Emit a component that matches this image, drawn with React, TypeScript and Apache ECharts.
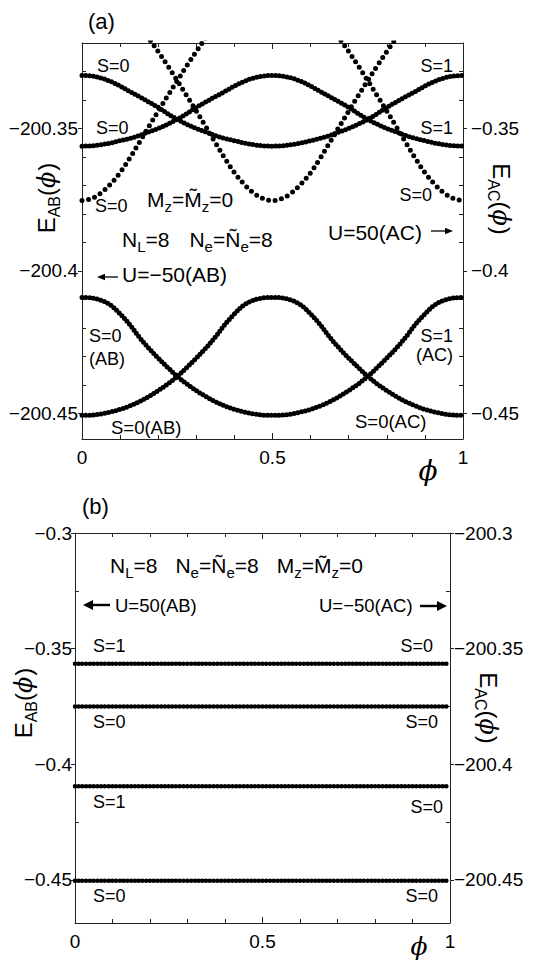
import React, { useEffect, useRef } from 'react';
import * as echarts from 'echarts';

const SANS = '"Liberation Sans", Arial, Helvetica, sans-serif';
const SERIF = '"DejaVu Serif", "Liberation Serif", serif';

// ---------- panel (a) data ----------
const PHI_FULL = [0, 0.025, 0.05, 0.075, 0.1, 0.125, 0.15, 0.175, 0.2, 0.225, 0.25, 0.275, 0.3, 0.325, 0.35, 0.375, 0.4, 0.425, 0.45, 0.475, 0.5, 0.525, 0.55, 0.575, 0.6, 0.625, 0.65, 0.675, 0.7, 0.725, 0.75, 0.775, 0.8, 0.825, 0.85, 0.875, 0.9, 0.925, 0.95, 0.975, 1];
const E_TOP_A = [-200.3314, -200.3316, -200.3323, -200.3335, -200.3351, -200.337, -200.3388, -200.3407, -200.3426, -200.3448, -200.3468, -200.3485, -200.35, -200.3512, -200.3525, -200.3535, -200.3543, -200.3551, -200.3557, -200.3561, -200.3562, -200.3561, -200.3557, -200.3551, -200.3543, -200.3535, -200.3525, -200.3512, -200.35, -200.3485, -200.3468, -200.3448, -200.3426, -200.3407, -200.3388, -200.337, -200.3351, -200.3335, -200.3323, -200.3316, -200.3314];
const E_TOP_B = [-200.3562, -200.3561, -200.3557, -200.3551, -200.3543, -200.3535, -200.3525, -200.3512, -200.35, -200.3485, -200.3468, -200.3448, -200.3426, -200.3407, -200.3388, -200.337, -200.3351, -200.3335, -200.3323, -200.3316, -200.3314, -200.3316, -200.3323, -200.3335, -200.3351, -200.337, -200.3388, -200.3407, -200.3426, -200.3448, -200.3468, -200.3485, -200.35, -200.3512, -200.3525, -200.3535, -200.3543, -200.3551, -200.3557, -200.3561, -200.3562];
const E_LOW_G = [-200.4093, -200.4095, -200.4103, -200.412, -200.4151, -200.4188, -200.4232, -200.4271, -200.4306, -200.4339, -200.437, -200.4397, -200.442, -200.4441, -200.4459, -200.4474, -200.4486, -200.4495, -200.4502, -200.4506, -200.4507, -200.4506, -200.4502, -200.4495, -200.4486, -200.4474, -200.4459, -200.4441, -200.442, -200.4397, -200.437, -200.4339, -200.4306, -200.4271, -200.4232, -200.4188, -200.4151, -200.412, -200.4103, -200.4095, -200.4093];
const E_LOW_F = [-200.4507, -200.4506, -200.4502, -200.4495, -200.4486, -200.4474, -200.4459, -200.4441, -200.442, -200.4397, -200.437, -200.4339, -200.4306, -200.4271, -200.4232, -200.4188, -200.4151, -200.412, -200.4103, -200.4095, -200.4093, -200.4095, -200.4103, -200.412, -200.4151, -200.4188, -200.4232, -200.4271, -200.4306, -200.4339, -200.437, -200.4397, -200.442, -200.4441, -200.4459, -200.4474, -200.4486, -200.4495, -200.4502, -200.4506, -200.4507];

const PHI_C = [0, 0.025, 0.05, 0.075, 0.1, 0.125, 0.15, 0.175, 0.2, 0.225, 0.25, 0.275, 0.3, 0.325, 0.35];
const E_STEEP_C = [-200.3753, -200.3746, -200.3726, -200.3695, -200.3655, -200.3605, -200.355, -200.3494, -200.3439, -200.3385, -200.3332, -200.328, -200.323, -200.3182, -200.3135];
const PHI_D = [0.15, 0.175, 0.2, 0.225, 0.25, 0.275, 0.3, 0.325, 0.35, 0.375, 0.4, 0.425, 0.45, 0.475, 0.5, 0.525, 0.55, 0.575, 0.6, 0.625, 0.65, 0.675, 0.7, 0.725, 0.75, 0.775, 0.8, 0.825, 0.85];
const E_STEEP_D = [-200.3135, -200.3182, -200.323, -200.328, -200.3332, -200.3385, -200.3439, -200.3494, -200.355, -200.3605, -200.3655, -200.3695, -200.3726, -200.3746, -200.3753, -200.3746, -200.3726, -200.3695, -200.3655, -200.3605, -200.355, -200.3494, -200.3439, -200.3385, -200.3332, -200.328, -200.323, -200.3182, -200.3135];
const PHI_E = [0.65, 0.675, 0.7, 0.725, 0.75, 0.775, 0.8, 0.825, 0.85, 0.875, 0.9, 0.925, 0.95, 0.975, 1];
const E_STEEP_E = [-200.3135, -200.3182, -200.323, -200.328, -200.3332, -200.3385, -200.3439, -200.3494, -200.355, -200.3605, -200.3655, -200.3695, -200.3726, -200.3746, -200.3753];

// ---------- panel (b) data ----------
const PHI_B = [0, 1];
const B_LEVELS = [-0.3565, -0.375, -0.4095, -0.4503];

// ---------- axes ----------
const A_LEFT_MIN = -200.459;
const A_LEFT_MAX = -200.32;
const A_RIGHT_MIN = -0.459;
const A_RIGHT_MAX = -0.32;
const A_LEFT_TICKS = [-200.45, -200.4, -200.35];
const A_RIGHT_TICKS = [-0.45, -0.4, -0.35];
const A_LEFT_MINOR = [-200.44, -200.43, -200.42, -200.41, -200.39, -200.38, -200.37, -200.36, -200.34, -200.33];
const A_RIGHT_MINOR = [-0.44, -0.43, -0.42, -0.41, -0.39, -0.38, -0.37, -0.36, -0.34, -0.33];

const B_LEFT_MIN = -0.4686;
const B_LEFT_MAX = -0.3;
const B_RIGHT_MIN = -200.4686;
const B_RIGHT_MAX = -200.3;
const B_LEFT_TICKS = [-0.45, -0.4, -0.35, -0.3];
const B_RIGHT_TICKS = [-200.45, -200.4, -200.35, -200.3];
const B_LEFT_MINOR = [-0.425, -0.375, -0.325];
const B_RIGHT_MINOR = [-200.425, -200.375, -200.325];

const zip = (xs: number[], ys: number[]) => xs.map((x, i) => [x, ys[i]]);
const fmt = (v: number) => String(Math.round(v * 10000) / 10000).replace('-', '\u2212');

type Part = { t: string; f: number; dy?: number; it?: boolean; fam?: string; sp?: number };

export default function App() {
  const ref = useRef<HTMLDivElement>(null);
  useEffect(() => {
    if (!ref.current) return;
    const chart = echarts.init(ref.current, undefined, { renderer: 'svg' });
    const ctx = document.createElement('canvas').getContext('2d')!;
    const tw = (p: Part) => {
      ctx.font = `${p.it ? 'italic ' : ''}${p.f}px ${p.fam || SANS}`;
      return ctx.measureText(p.t).width;
    };
    // baseline-positioned sequence of text fragments
    const seq = (parts: Part[], x: number, y: number, anchor: 'left' | 'right' | 'center' = 'left', rot = 0) => {
      const widths = parts.map((p) => tw(p) + (p.sp || 0));
      const total = widths.reduce((a, b) => a + b, 0);
      let cx = anchor === 'left' ? 0 : anchor === 'right' ? -total : -total / 2;
      const children = parts.map((p, i) => {
        const el = {
          type: 'text',
          x: cx + (p.sp || 0),
          y: (p.dy || 0) - 0.3465 * p.f,
          style: {
            text: p.t,
            fontSize: p.f,
            fontFamily: p.fam || SANS,
            fontStyle: p.it ? 'italic' : 'normal',
            fill: '#000',
            align: 'left',
            verticalAlign: 'middle',
          },
        };
        cx += widths[i];
        return el;
      });
      return { type: 'group', x, y, rotation: rot, silent: true, children };
    };
    const T = (t: string, x: number, y: number, f: number, anchor: 'left' | 'right' | 'center' = 'left') =>
      seq([{ t, f }], x, y, anchor);
    const arrow = (x1: number, x2: number, y: number, w: number, hl: number, hh: number) => {
      const dir = x2 > x1 ? 1 : -1;
      return {
        type: 'group',
        silent: true,
        children: [
          { type: 'line', shape: { x1, y1: y, x2: x2 - dir * hl * 0.8, y2: y }, style: { stroke: '#000', lineWidth: w } },
          { type: 'polygon', shape: { points: [[x2, y], [x2 - dir * hl, y - hh], [x2 - dir * hl, y + hh]] }, style: { fill: '#000' } },
        ],
      };
    };
    const sub = 15;
    const phiPart = (f: number): Part => ({ t: '\u03D5', f, it: true, fam: SERIF });
    const axisTitle = (s: string, x: number, y: number, rot: number) =>
      seq([{ t: 'E', f: 24 }, { t: s, f: 16, dy: 5 }, { t: '(', f: 24 }, phiPart(24), { t: ')', f: 24, sp: 1 }], x, y, 'center', rot);

    const graphic: any[] = [
      // panel (a)
      T('(a)', 88, 29, 22),
      T('S=0', 97, 72.5, 18),
      T('S=0', 96, 134.5, 18),
      T('S=0', 95, 212, 18),
      T('S=1', 453, 72.5, 18, 'right'),
      T('S=1', 453, 134.5, 18, 'right'),
      T('S=0', 432, 201, 18, 'right'),
      seq([{ t: 'M', f: 21 }, { t: 'z', f: sub, dy: 5 }, { t: '=M\u0303', f: 21 }, { t: 'z', f: sub, dy: 5 }, { t: '=0', f: 21 }], 147, 206.5),
      seq([{ t: 'N', f: 21 }, { t: 'L', f: sub, dy: 5 }, { t: '=8', f: 21 }, { t: 'N', f: 21, sp: 20 }, { t: 'e', f: sub, dy: 5 }, { t: '=\u00D1', f: 21 }, { t: 'e', f: sub, dy: 5 }, { t: '=8', f: 21 }], 122, 247),
      T('U=50(AC)', 328, 240, 21),
      arrow(431, 453, 231, 1.3, 8, 3.2),
      arrow(118, 97, 277, 1.3, 8, 3.2),
      T('U=\u221250(AB)', 122, 282, 21),
      T('S=0', 89, 342, 18),
      T('(AB)', 89, 365, 18),
      T('S=1', 453, 342, 18, 'right'),
      T('(AC)', 453, 361, 18, 'right'),
      T('S=0(AB)', 111, 434, 18.5),
      T('S=0(AC)', 355, 428, 18.5),
      seq([phiPart(28)], 428, 480, 'center'),
      axisTitle('AB', 55, 198, Math.PI / 2),
      axisTitle('AC', 493, 199, -Math.PI / 2),
      // panel (b)
      T('(b)', 82, 514, 22),
      seq([
        { t: 'N', f: 21 }, { t: 'L', f: sub, dy: 5 }, { t: '=8', f: 21 },
        { t: 'N', f: 21, sp: 18 }, { t: 'e', f: sub, dy: 5 }, { t: '=\u00D1', f: 21 }, { t: 'e', f: sub, dy: 5 }, { t: '=8', f: 21 },
        { t: 'M', f: 21, sp: 18 }, { t: 'z', f: sub, dy: 5 }, { t: '=M\u0303', f: 21 }, { t: 'z', f: sub, dy: 5 }, { t: '=0', f: 21 },
      ], 110, 573),
      arrow(110, 83, 605, 2.4, 10, 5),
      T('U=50(AB)', 115, 612, 18.5),
      T('U=\u221250(AC)', 319, 612, 18.5),
      arrow(420, 447, 606, 2.4, 10, 5),
      T('S=1', 93, 652, 18),
      T('S=0', 433, 652, 18, 'right'),
      T('S=0', 93, 728, 18),
      T('S=0', 438, 728, 18, 'right'),
      T('S=1', 93, 808, 18),
      T('S=0', 443, 813, 18, 'right'),
      T('S=0', 93, 902, 18),
      T('S=0', 438, 902, 18, 'right'),
      seq([phiPart(25)], 419, 955, 'center'),
      axisTitle('AB', 32, 703, Math.PI / 2),
      axisTitle('AC', 480, 708, -Math.PI / 2),
    ];

    const AX = '#222';
    const lbl = { fontSize: 19, fontFamily: SANS, color: '#000' };
    const xAx = (grid: number, pos: 'top' | 'bottom', labels: boolean) => ({
      type: 'value', gridIndex: grid, position: pos, min: 0, max: 1, interval: 0.5,
      axisLine: { show: true, onZero: false, lineStyle: { color: AX, width: 1 } },
      axisTick: { show: true, inside: true, length: 6, lineStyle: { color: AX } },
      minorTick: { show: true, splitNumber: 5, length: 4, lineStyle: { color: AX } },
      axisLabel: { show: labels, margin: 9, ...lbl },
      splitLine: { show: false },
    });
    const yLab = (grid: number, pos: 'left' | 'right', min: number, max: number, ticks: number[], margin: number) => ({
      type: 'value', gridIndex: grid, position: pos, min, max,
      axisLine: { show: true, onZero: false, lineStyle: { color: AX, width: 1 } },
      axisTick: { show: true, inside: false, length: 4, customValues: ticks, lineStyle: { color: AX } },
      axisLabel: { show: true, customValues: ticks, formatter: fmt, margin, ...lbl },
      splitLine: { show: false },
    });
    const yMin = (grid: number, pos: 'left' | 'right', min: number, max: number, ticks: number[]) => ({
      type: 'value', gridIndex: grid, position: pos, min, max,
      axisLine: { show: false, onZero: false },
      axisTick: { show: true, inside: true, length: 4, customValues: ticks, lineStyle: { color: AX } },
      axisLabel: { show: false },
      splitLine: { show: false },
    });

    const dotLine = (data: number[][], xi: number, yi: number, w: number, gap: number) => ({
      type: 'line', xAxisIndex: xi, yAxisIndex: yi, data, smooth: 0.35, symbol: 'none', clip: true, silent: true,
      lineStyle: { color: '#000', width: w, type: [0, gap], cap: 'round' },
    });

    chart.setOption({
      animation: false,
      grid: [
        { left: 82, top: 43, width: 381, height: 396 },
        { left: 75, top: 533, width: 375, height: 390 },
      ],
      xAxis: [xAx(0, 'bottom', true), xAx(0, 'top', false), xAx(1, 'bottom', true), xAx(1, 'top', false)],
      yAxis: [
        yLab(0, 'left', A_LEFT_MIN, A_LEFT_MAX, A_LEFT_TICKS, 4),
        yMin(0, 'left', A_LEFT_MIN, A_LEFT_MAX, A_LEFT_MINOR),
        yLab(0, 'right', A_RIGHT_MIN, A_RIGHT_MAX, A_RIGHT_TICKS, 8),
        yMin(0, 'right', A_RIGHT_MIN, A_RIGHT_MAX, A_RIGHT_MINOR),
        yLab(1, 'left', B_LEFT_MIN, B_LEFT_MAX, B_LEFT_TICKS, 3),
        yMin(1, 'left', B_LEFT_MIN, B_LEFT_MAX, B_LEFT_MINOR),
        yLab(1, 'right', B_RIGHT_MIN, B_RIGHT_MAX, B_RIGHT_TICKS, 4),
        yMin(1, 'right', B_RIGHT_MIN, B_RIGHT_MAX, B_RIGHT_MINOR),
      ],
      series: [
        dotLine(zip(PHI_FULL, E_TOP_A), 0, 0, 5, 3.8),
        dotLine(zip(PHI_FULL, E_TOP_B), 0, 0, 5, 3.8),
        dotLine(zip(PHI_FULL, E_LOW_G), 0, 0, 5, 3.8),
        dotLine(zip(PHI_FULL, E_LOW_F), 0, 0, 5, 3.8),
        dotLine(zip(PHI_C, E_STEEP_C), 0, 0, 5, 6.5),
        dotLine(zip(PHI_D, E_STEEP_D), 0, 0, 5, 6.5),
        dotLine(zip(PHI_E, E_STEEP_E), 0, 0, 5, 6.5),
        ...B_LEVELS.map((v) => dotLine(PHI_B.map((p) => [p, v]), 2, 4, 4.5, 3.75)),
      ],
      graphic,
    });
    return () => chart.dispose();
  }, []);
  return <div ref={ref} style={{ position: 'fixed', left: 0, top: 0, width: 545, height: 966, background: '#fff' }} />;
}
